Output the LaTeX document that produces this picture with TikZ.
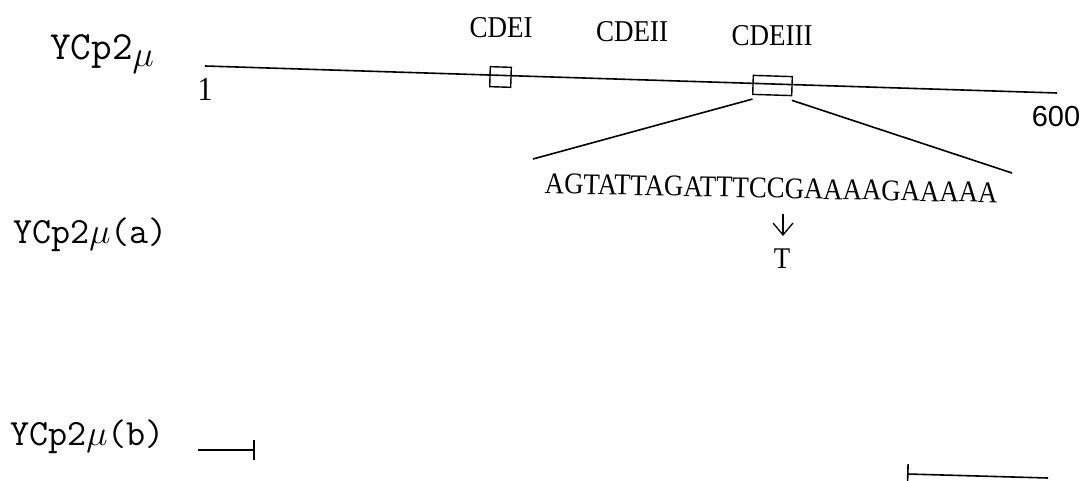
\documentclass[tikz,border=0pt]{standalone}
\usepackage{fontspec}
\setmainfont{Liberation Serif}
\newfontfamily\numfont{Liberation Sans}
\newcommand{\mymu}{\scalebox{1.45}{$\mu$}}
\newcommand{\tallr}[1]{\scalebox{1}[1.12]{#1}}
\usetikzlibrary{arrows.meta}
\tikzset{
  seqline/.style={line width=1.6pt, black},
  cdebox/.style={draw, line width=1.4pt, inner sep=0pt, fill=none},
  cdelabel/.style={font=\fontsize{27}{30}\selectfont, inner sep=0pt},
  rowlabel/.style={font=\ttfamily\fontsize{37}{40}\selectfont, anchor=base west, inner sep=0pt},
  endnum/.style={inner sep=0pt},
}
\begin{document}
\begin{tikzpicture}[x=1pt,y=-1pt]
\useasboundingbox (0,0) rectangle (1086,481);
% row labels
\node[rowlabel, font=\ttfamily\fontsize{40}{42}\selectfont] (lab0) at (50,60) {YCp2\raisebox{-7pt}{\mymu}};
\node[rowlabel] (laba) at (13,243) {YCp2\mymu(a)};
\node[rowlabel] (labb) at (10,445) {YCp2\mymu(b)};
% main line
\coordinate (m1) at (205,66);
\coordinate (m2) at (1057,93);
\draw[seqline] (m1) -- (m2);
\node[endnum, font=\fontsize{30}{32}\selectfont] (n1) at (205,89) {\tallr{1}};
\node[endnum, font=\numfont\fontsize{29}{32}\selectfont] (n600) at (1056,117) {600};
% CDE boxes
\node[cdebox, minimum width=21pt, minimum height=20pt, rotate=-1.8] (cde1) at (500.5,77) {};
\node[cdebox, minimum width=39pt, minimum height=19pt, rotate=-1.8] (cde3) at (772.5,85.5) {};
\node[cdelabel] (t1) at (501,28) {\tallr{CDEI}};
\node[cdelabel] (t2) at (632,32) {\tallr{CDEII}};
\node[cdelabel] (t3) at (772,36) {\tallr{CDEIII}};
% sequence
\node[font=\fontsize{26.8}{30}\selectfont, anchor=base, inner sep=0pt, rotate=-1.2] (seq) at (771,198) {\tallr{AGTATTAGATTTCCGAAAAGAAAAA}};
\coordinate (fl) at (533,159);
\coordinate (fr) at (1012,173);
\draw[seqline] ([xshift=0.5pt,yshift=-4pt]cde3.south west) -- (fl);
\draw[seqline] ([xshift=-0.5pt,yshift=-4pt]cde3.south east) -- (fr);
% mutation
\coordinate (a1) at (783,214);
\node[font=\fontsize{26.8}{30}\selectfont, inner sep=0pt] (mutT) at (782,259) {\tallr{T}};
\draw[line width=1.3pt, -{Straight Barb[length=12pt,width=20pt,line width=1.3pt]}] (a1) -- (783,236);
% (b) segments
\coordinate (b1) at (198,450);
\coordinate (b2) at (255,450);
\coordinate (b3) at (907,474);
\coordinate (b4) at (1048,478);
\draw[seqline, -{Bar[width=20pt,line width=1.6pt]}] (b1) -- (b2);
\draw[seqline, {Bar[width=20pt,line width=1.6pt]}-] (b3) -- (b4);
\end{tikzpicture}
\end{document}
